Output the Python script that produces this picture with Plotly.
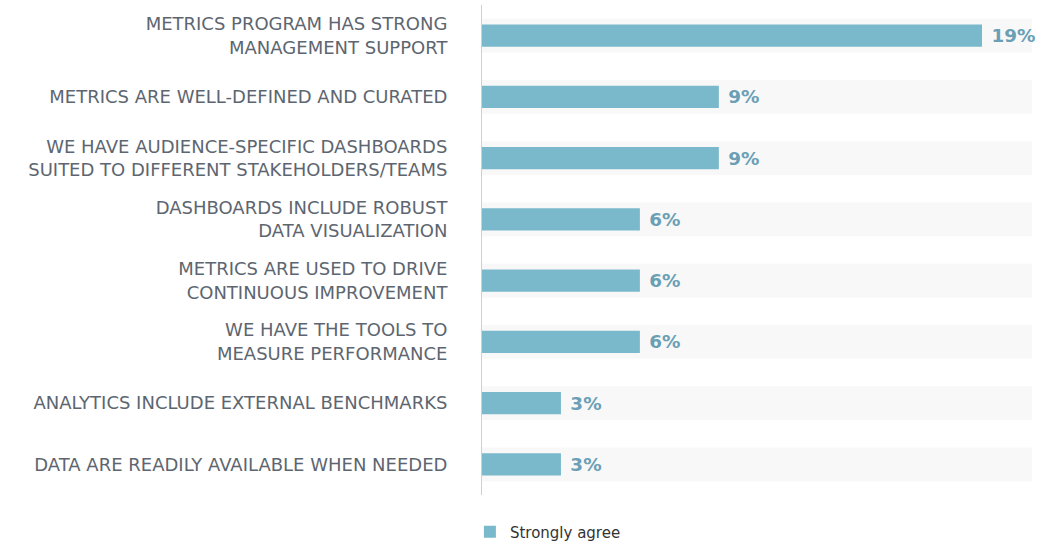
import plotly.graph_objects as go

categories = [
    "METRICS PROGRAM HAS STRONG<br>MANAGEMENT SUPPORT",
    "METRICS ARE WELL-DEFINED AND CURATED",
    "WE HAVE AUDIENCE-SPECIFIC DASHBOARDS<br>SUITED TO DIFFERENT STAKEHOLDERS/TEAMS",
    "DASHBOARDS INCLUDE ROBUST<br>DATA VISUALIZATION",
    "METRICS ARE USED TO DRIVE<br>CONTINUOUS IMPROVEMENT",
    "WE HAVE THE TOOLS TO<br>MEASURE PERFORMANCE",
    "ANALYTICS INCLUDE EXTERNAL BENCHMARKS",
    "DATA ARE READILY AVAILABLE WHEN NEEDED",
]
strongly_agree = [19, 9, 9, 6, 6, 6, 3, 3]
axis_max = 20.9
band_values = [axis_max] * len(categories)

fig = go.Figure()
fig.add_trace(go.Bar(
    y=categories, x=band_values, orientation="h",
    marker=dict(color="#f8f8f8", line=dict(width=0)),
    width=0.55, showlegend=False, hoverinfo="skip",
))
fig.add_trace(go.Bar(
    y=categories, x=strongly_agree, orientation="h",
    name="Strongly agree",
    marker=dict(color="#7ab8cc", line=dict(width=0)),
    width=0.36,
    text=[f" {v}%" for v in strongly_agree],
    textposition="outside",
    textfont=dict(family="DejaVu Sans", size=20, color="#6a9fb5", weight="bold"),
    cliponaxis=False,
))

fig.update_layout(
    width=1053, height=543,
    margin=dict(l=482, r=21, t=5, b=48, autoexpand=False),
    barmode="overlay",
    plot_bgcolor="white", paper_bgcolor="white",
    font=dict(family="DejaVu Sans", color="#5d6670"),
    xaxis=dict(range=[0, axis_max], showgrid=False, zeroline=False,
               showticklabels=False, showline=False, fixedrange=True),
    yaxis=dict(autorange="reversed", showgrid=False, zeroline=False,
               showline=True, linecolor="#d0d0d0", linewidth=1,
               ticks="", ticklabelstandoff=30, automargin=False,
               tickfont=dict(family="DejaVu Sans", size=18, color="#5d6670")),
    legend=dict(orientation="h", x=-0.022, xanchor="left", y=-0.0755, yanchor="middle",
                font=dict(family="DejaVu Sans", size=15, color="#333333")),
    bargap=0.3,
)

fig.write_html("out.html")
